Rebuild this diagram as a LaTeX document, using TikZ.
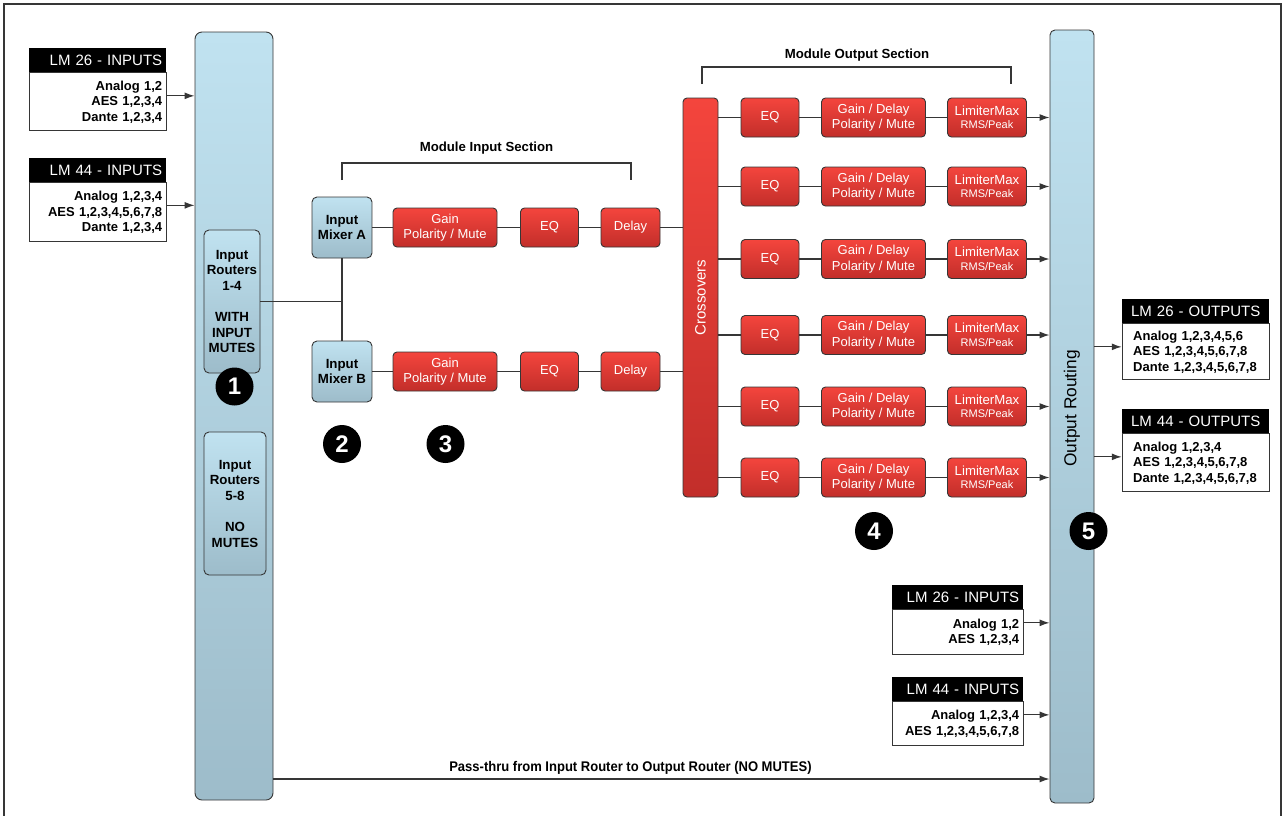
\documentclass[tikz,border=0pt]{standalone}
\usepackage{fontspec}
\setmainfont{Liberation Sans}
\newfontfamily\narrowfont[FakeStretch=0.93]{Liberation Sans}
\usetikzlibrary{calc}
\usetikzlibrary{positioning}
\usetikzlibrary{arrows.meta}

\definecolor{redtop}{HTML}{F4453D}
\definecolor{redbot}{HTML}{C22E2A}
\definecolor{bluetop}{HTML}{C0E2F0}
\definecolor{bluebot}{HTML}{9DBCCA}
\definecolor{edge}{HTML}{363636}

\tikzset{
  redbox/.style={draw=edge, line width=0.9pt, rounded corners=4pt, top color=redtop, bottom color=redbot,
    text=white, align=center, inner sep=0pt, minimum height=39pt, font=\fontsize{13}{15.5}\selectfont},
  bluebox/.style={draw=edge, line width=0.9pt, rounded corners=5pt, top color=bluetop, bottom color=bluebot,
    align=center, inner sep=0pt, font=\bfseries\fontsize{13.3}{15.6}\selectfont},
  bluecol/.style={bluebox, rounded corners=7pt},
  numdot/.style={circle, fill=black, text=white, minimum size=38pt, inner sep=0pt,
    font=\bfseries\fontsize{24}{24}\selectfont},
  hdr/.style={fill=black, text=white, inner xsep=4pt, inner ysep=0pt, minimum height=24pt,
    anchor=north west, font=\fontsize{15}{16}\selectfont},
  iobody/.style={draw=edge, line width=0.9pt, fill=white, inner xsep=4pt, inner ysep=0pt,
    font=\bfseries\fontsize{13}{15.5}\selectfont},
  link/.style={draw=edge, line width=1.2pt},
  feed/.style={link, -{Latex[length=10pt,width=7pt]}},
  bracket/.style={draw=edge, line width=1.1pt},
  sectitle/.style={font=\bfseries\fontsize{13.2}{14}\selectfont}
}

\begin{document}
\begin{tikzpicture}[x=1pt,y=-1pt]
\useasboundingbox (0,0) rectangle (1285,815);
\begin{scope}
\clip (0,0) rectangle (1285,815);
\draw[edge, line width=2.2pt] (4,4) rectangle (1281,830);
\end{scope}

% input router column
\node[bluecol, minimum width=78pt, minimum height=768pt] (inroute) at (234,416) {};
\node[bluebox, minimum width=56pt, minimum height=143pt] (rt14) at (232,301.5)
  {Input\\Routers\\1-4\\[15.6pt]WITH\\INPUT\\MUTES};
\node[bluebox, minimum width=62pt, minimum height=143pt] (rt58) at (235,503.5)
  {Input\\Routers\\5-8\\[15.6pt]NO\\MUTES};

% LM inputs, left
\node[hdr, text width=129pt, align=right] (h26in) at (29,48) {LM 26 - INPUTS};
\node[iobody, below=0pt of h26in, text width=129pt, minimum height=58pt, align=right] (b26in)
  {Analog 1,2\\AES 1,2,3,4\\Dante 1,2,3,4};
\node[hdr, text width=129pt, align=right] (h44in) at (29,158) {LM 44 - INPUTS};
\node[iobody, below=0pt of h44in, text width=129pt, minimum height=59pt, align=right] (b44in)
  {Analog 1,2,3,4\\AES 1,2,3,4,5,6,7,8\\Dante 1,2,3,4};
\draw[feed] ([yshift=6pt]b26in.east) -- ([yshift=6pt]b26in.east -| inroute.west);
\draw[feed] ([yshift=7pt]b44in.east) -- ([yshift=7pt]b44in.east -| inroute.west);

% mixers
\node[bluebox, minimum width=60pt, minimum height=61pt] (mixA) at (342,227.5) {Input\\Mixer A};
\node[bluebox, minimum width=60pt, minimum height=61pt] (mixB) at (342,371.5) {Input\\Mixer B};
\draw[link] (rt14.east) -- (rt14.east -| mixA.south);
\draw[link] (mixA) -- (mixB);

% module input section
\node[redbox, minimum width=104pt] (gainA) at (445,227.5) {Gain\\Polarity / Mute};
\node[redbox, minimum width=58pt] (eqA) at (549.5,227.5) {EQ};
\node[redbox, minimum width=59pt] (delA) at (630.5,227.5) {Delay};
\node[redbox, minimum width=104pt] (gainB) at (445,371.5) {Gain\\Polarity / Mute};
\node[redbox, minimum width=58pt] (eqB) at (549.5,371.5) {EQ};
\node[redbox, minimum width=59pt] (delB) at (630.5,371.5) {Delay};
\draw[link] (mixA) -- (gainA) -- (eqA) -- (delA);
\draw[link] (mixB) -- (gainB) -- (eqB) -- (delB);

\coordinate (inL) at (342,180);
\coordinate (inR) at (631,180);
\draw[bracket] (inL) --++(0,-17) -| (inR);
\node[sectitle] (intitle) at (486.5,148) {Module Input Section};

% crossovers and output routing
\node[redbox, minimum width=35pt, minimum height=399pt,
  label={[rotate=90, text=white, font=\fontsize{15}{16}\selectfont]center:Crossovers}] (xover) at (700.5,297.5) {};
\node[bluecol, rounded corners=5pt, minimum width=44pt, minimum height=773pt,
  label={[yshift=8pt, rotate=90, font=\fontsize{17.3}{18}\selectfont\mdseries]center:Output Routing}] (outroute) at (1072,416.5) {};
\draw[link] (delA) -- (delA -| xover.west);
\draw[link] (delB) -- (delB -| xover.west);

% module output section
\foreach \r/\y in {1/117.5, 2/186.5, 3/259, 4/335, 5/406.5, 6/477.5} {
  \node[redbox, minimum width=58pt] (eq\r) at (770,\y) {EQ};
  \node[redbox, minimum width=104pt] (gd\r) at (873.5,\y) {Gain / Delay\\Polarity / Mute};
  \node[redbox, minimum width=79pt, font=\fontsize{13.2}{13.5}\selectfont] (lim\r) at (987,\y)
    {LimiterMax\\{\fontsize{11}{13.5}\selectfont RMS/Peak}};
  \draw[link] (eq\r.west -| xover.east) -- (eq\r) -- (gd\r) -- (lim\r);
  \draw[feed] (lim\r) -- (lim\r -| outroute.west);
}

\coordinate (outL) at (702,84);
\coordinate (outR) at (1011,84);
\draw[bracket] (outL) --++(0,-17) -| (outR);
\node[sectitle] (outtitle) at (857,55.5) {Module Output Section};

% LM outputs
\node[hdr, text width=139pt, align=center] (h26out) at (1122,299) {LM 26 - OUTPUTS};
\node[iobody, below=0pt of h26out, text width=139pt, minimum height=56pt, align=left] (b26out)
  {\hspace*{7pt}Analog 1,2,3,4,5,6\\\hspace*{7pt}AES 1,2,3,4,5,6,7,8\\\hspace*{7pt}Dante 1,2,3,4,5,6,7,8};
\node[hdr, text width=139pt, align=center] (h44out) at (1122,409) {LM 44 - OUTPUTS};
\node[iobody, below=0pt of h44out, text width=139pt, minimum height=58pt, align=left] (b44out)
  {\hspace*{7pt}Analog 1,2,3,4\\\hspace*{7pt}AES 1,2,3,4,5,6,7,8\\\hspace*{7pt}Dante 1,2,3,4,5,6,7,8};
\draw[feed] ([yshift=5pt]b26out.west -| outroute.east) -- ([yshift=5pt]b26out.west);
\draw[feed] ([yshift=6pt]b44out.west -| outroute.east) -- ([yshift=6pt]b44out.west);

% LM inputs, lower right
\node[hdr, text width=123pt, align=right] (h26low) at (892,585) {LM 26 - INPUTS};
\node[iobody, below=0pt of h26low, text width=123pt, minimum height=45pt, align=right] (b26low)
  {Analog 1,2\\AES 1,2,3,4};
\node[hdr, text width=123pt, align=right] (h44low) at (892,677) {LM 44 - INPUTS};
\node[iobody, below=0pt of h44low, text width=123pt, minimum height=44pt, align=right] (b44low)
  {Analog 1,2,3,4\\AES 1,2,3,4,5,6,7,8};
\draw[feed] ([yshift=9.5pt]b26low.east) -- ([yshift=9.5pt]b26low.east -| outroute.west);
\draw[feed] ([yshift=9pt]b44low.east) -- ([yshift=9pt]b44low.east -| outroute.west);

% pass-thru
\coordinate (pass) at ([yshift=-363pt]inroute.east);
\draw[feed] (pass) -- (pass -| outroute.west)
  node[pos=0.46, above=1pt, font=\narrowfont\bfseries\fontsize{14}{15}\selectfont]
  {Pass-thru from Input Router to Output Router (NO MUTES)};

% numbers
\node[numdot] (n1) at (234.5,386.5) {1};
\node[numdot] (n2) at (342,444) {2};
\node[numdot] (n3) at (445.5,444) {3};
\node[numdot] (n4) at (874,531) {4};
\node[numdot] (n5) at (1088.5,531) {5};
\end{tikzpicture}
\end{document}
